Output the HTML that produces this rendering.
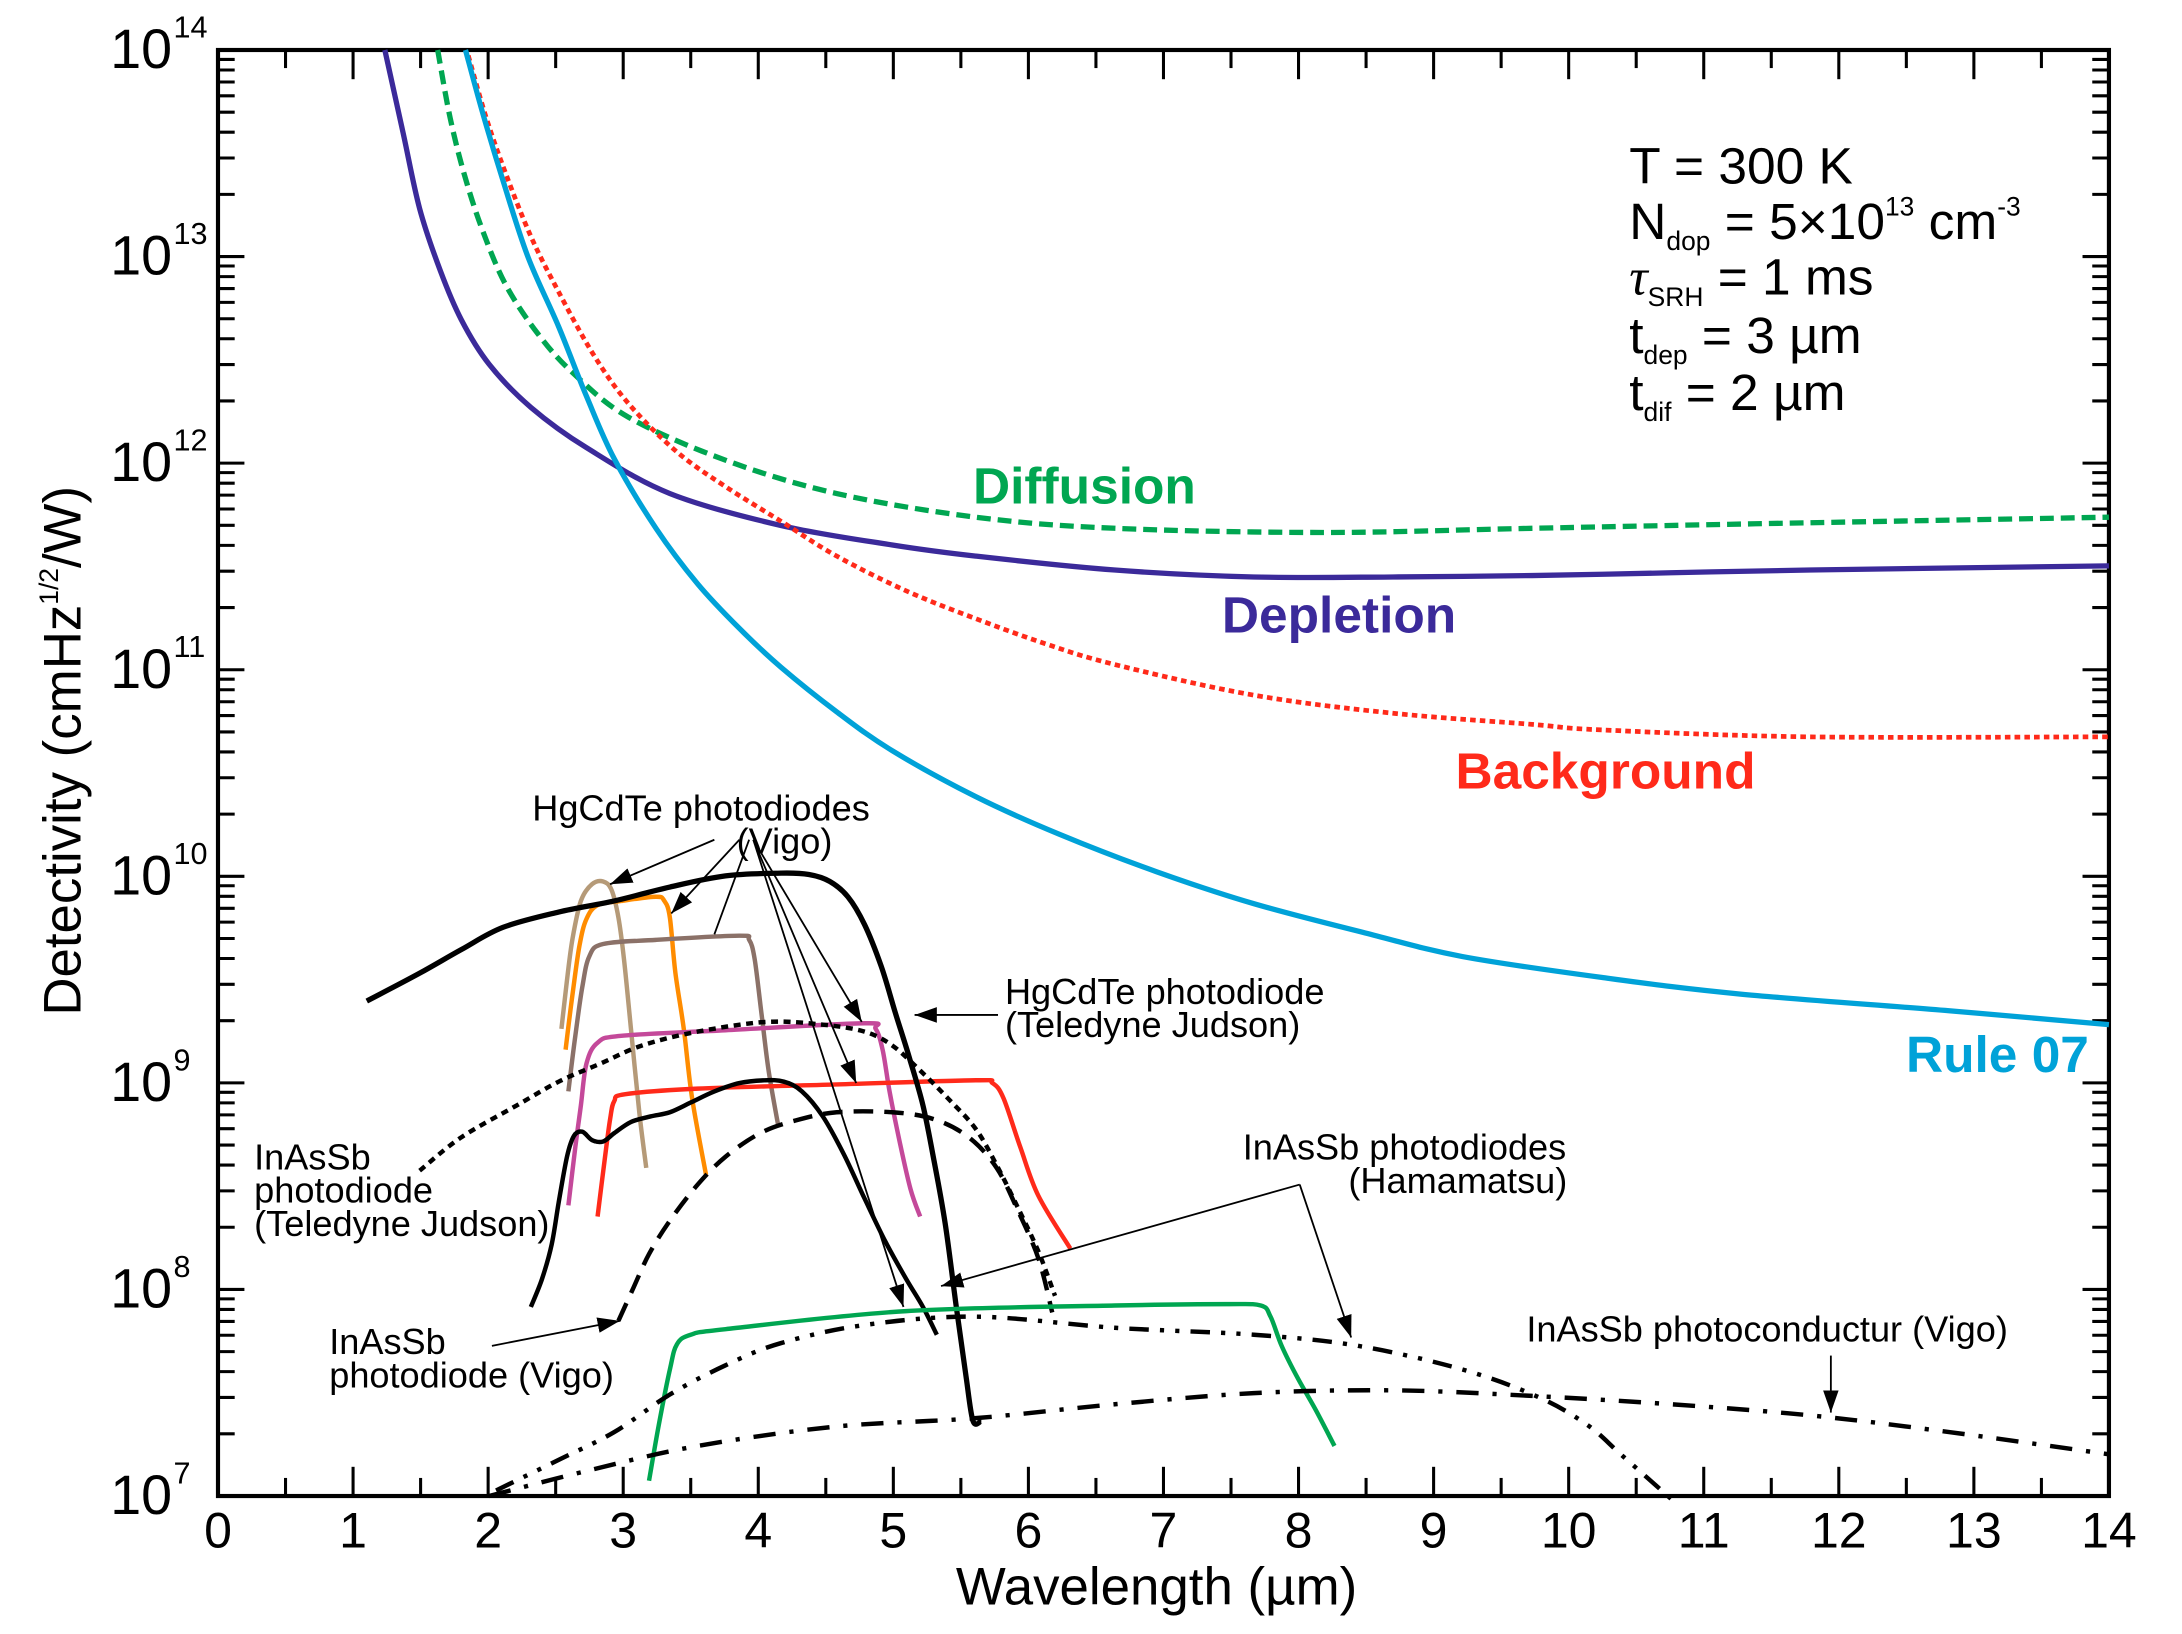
<!DOCTYPE html>
<html><head><meta charset="utf-8"><style>
html,body{margin:0;padding:0;background:#fff;}
svg{display:block;font-family:"Liberation Sans",Arial,sans-serif;}
</style></head><body>
<svg id="s" width="2182" height="1634" viewBox="0 0 2182 1634" xmlns="http://www.w3.org/2000/svg">
<rect width="2182" height="1634" fill="#fff"/>
<defs>
<marker id="ah2" viewBox="0 0 10 10" refX="10" refY="5" markerWidth="16" markerHeight="16" markerUnits="userSpaceOnUse" orient="auto"><path d="M0,1.5 L10,5 L0,8.5 z" fill="#000"/></marker>
</defs>
<g transform="translate(218,50) scale(1.3904) translate(-155,-36)">
<g id="ticks" stroke="#000" stroke-width="2.2"></g>
<rect x="155" y="36" width="1360" height="1040" fill="none" stroke="#000" stroke-width="3"/>
<g id="curves" fill="none" stroke-linejoin="round" stroke-linecap="butt">
<polyline stroke="#3b2a9a" stroke-width="3.8" points="275,36 288,95 300,150 315,195 330,230 350,262 380,293 420,322 480,355 560,378 640,392 700,400 800,410 900,415 1000,415 1100,414 1200,412 1300,410 1515,407"/>
<polyline stroke="#00a651" stroke-width="3.8" stroke-dasharray="10,5" points="313,36 322,85 332,125 345,165 362,205 385,240 410,268 450,300 520,331 600,355 700,372 800,380 950,383 1100,380 1300,376 1515,372"/>
<polyline stroke="#ff2a1a" stroke-width="3.4" stroke-dasharray="4,3" points="335,40 348,85 362,125 380,170 400,210 425,255 450,290 485,325 520,350 560,375 600,400 650,425 700,445 750,463 800,478 900,500 1000,513 1100,521 1150,525 1300,530 1515,530"/>
<polyline stroke="#00a2d8" stroke-width="3.8" points="333,36 345,80 360,130 378,185 400,235 420,285 440,330 470,380 500,420 530,452 560,480 600,512 640,540 700,573 760,600 830,627 900,650 980,671 1050,688 1150,703 1250,715 1400,727 1515,737"/>
<polyline stroke="#b59a78" stroke-width="3.2" points="402,740 406,705 410,675 416,648 424,636 432,634 438,640 443,660 447,690 452,740 458,800 463,840"/>
<polyline stroke="#ff8c00" stroke-width="3.2" points="405,755 410,715 415,680 420,661 428,651 445,648 470,645 476,648 480,660 484,700 490,740 496,790 506,845"/>
<polyline stroke="#8b7168" stroke-width="3.2" points="407,785 412,745 417,710 422,688 432,679 470,676 530,673 537,676 541,690 546,730 551,770 558,810"/>
<polyline stroke="#c4499a" stroke-width="3.2" points="407,867 412,825 416,795 420,765 428,750 445,745 520,741 620,736 628,740 633,755 638,785 645,820 653,855 660,875"/>
<polyline stroke="#ff2a1a" stroke-width="3.2" points="428,875 433,835 437,805 440,792 448,787 500,783 600,780 700,777 712,779 720,790 732,825 745,860 768,898"/>
<polyline stroke="#000" stroke-width="3.8" points="262,720 300,700 330,683 360,667 400,656 440,648 480,638 520,630 560,628 580,629 595,634 608,645 620,665 632,695 642,728 652,760 662,795 670,835 678,880 686,940 693,990 698,1022 704,1022"/>
<polyline stroke="#000" stroke-width="3.2" points="380,940 388,920 395,895 400,865 406,832 411,817 417,814 424,820 432,821 440,815 452,807 466,803 480,800 495,793 512,785 530,779 548,777 562,778 575,785 590,803 605,830 620,862 635,893 650,920 662,940 672,960"/>
<polyline stroke="#000" stroke-width="3.2" stroke-dasharray="5,4" points="300,842 330,818 370,795 400,778 430,765 460,752 500,742 550,735 590,737 620,742 640,752 660,770 680,790 700,812 715,838 730,868 745,900 757,932"/>
<polyline stroke="#000" stroke-width="3.2" stroke-dasharray="14,8" points="443,950 453,928 465,902 480,878 500,852 520,832 545,815 570,806 600,800 640,800 670,805 695,818 715,840 730,870 745,905 755,944"/>
<polyline stroke="#00a651" stroke-width="3.2" points="465,1065 472,1025 480,985 485,967 495,960 520,956 650,943 800,939 880,938 905,939 912,947 920,968 932,992 945,1015 958,1040"/>
<polyline stroke="#000" stroke-width="3.2" stroke-dasharray="14,8,3,8,3,8" points="355,1072 400,1050 440,1030 480,1003 520,982 560,966 620,953 700,947 800,955 900,960 975,968 1050,985 1105,1005 1140,1025 1165,1047 1200,1078"/>
<polyline stroke="#000" stroke-width="3.2" stroke-dasharray="16,10,3,10" points="350,1076 420,1058 500,1040 600,1026 700,1020 800,1010 900,1002 1000,1000 1100,1004 1200,1010 1300,1018 1400,1030 1515,1046"/>
</g>
<g stroke="#000" stroke-width="1.3" fill="none">
<line x1="512" y1="604" x2="437" y2="636" marker-end="url(#ah2)"/>
<line x1="530" y1="604" x2="481" y2="657" marker-end="url(#ah2)"/>
<line x1="537" y1="604" x2="512" y2="672"/>
<line x1="540" y1="604" x2="618" y2="735" marker-end="url(#ah2)"/>
<line x1="540" y1="604" x2="614" y2="779" marker-end="url(#ah2)"/>
<line x1="540" y1="604" x2="648" y2="940" marker-end="url(#ah2)"/>
<line x1="716" y1="730" x2="656" y2="730" marker-end="url(#ah2)"/>
<line x1="933" y1="852" x2="675" y2="925" marker-end="url(#ah2)"/>
<line x1="933" y1="852" x2="970" y2="962" marker-end="url(#ah2)"/>
<line x1="352" y1="968" x2="444" y2="950" marker-end="url(#ah2)"/>
<line x1="1315" y1="975" x2="1315" y2="1016" marker-end="url(#ah2)"/>
</g>
<g font-size="26" fill="#000">
<text x="381" y="590">HgCdTe photodiodes</text>
<text x="528" y="614">(Vigo)</text>
<text x="721" y="722">HgCdTe photodiode</text>
<text x="721" y="746">(Teledyne Judson)</text>
<text x="892" y="834">InAsSb photodiodes</text>
<text x="968" y="858">(Hamamatsu)</text>
<text x="1096" y="965">InAsSb photoconductur (Vigo)</text>
<text x="235" y="974">InAsSb</text>
<text x="235" y="998">photodiode (Vigo)</text>
<text x="181" y="841">InAsSb</text>
<text x="181" y="865">photodiode</text>
<text x="181" y="889">(Teledyne Judson)</text>
</g>
<g font-size="37" font-weight="bold">
<text x="698" y="362" fill="#00a651">Diffusion</text>
<text x="877" y="455" fill="#3b2a9a">Depletion</text>
<text x="1045" y="567" fill="#ff2a1a">Background</text>
<text x="1369" y="771" fill="#00a2d8">Rule 07</text>
</g>
<g font-size="37" fill="#000">
<text x="1170" y="132">T = 300 K</text>
<text x="1170" y="172">N<tspan font-size="19" dy="8">dop</tspan><tspan dy="-8"> = 5×10</tspan><tspan font-size="19" dy="-17">13</tspan><tspan dy="17"> cm</tspan><tspan font-size="19" dy="-17">-3</tspan></text>
<text x="1170" y="212"><tspan font-family="'Liberation Serif',serif" font-style="italic">τ</tspan><tspan font-size="19" dy="8">SRH</tspan><tspan dy="-8"> = 1 ms</tspan></text>
<text x="1170" y="254">t<tspan font-size="19" dy="8">dep</tspan><tspan dy="-8"> = 3 µm</tspan></text>
<text x="1170" y="295">t<tspan font-size="19" dy="8">dif</tspan><tspan dy="-8"> = 2 µm</tspan></text>
</g>
<g id="labels" font-size="36" fill="#000"></g>
<text x="830" y="1154" font-size="38" text-anchor="middle">Wavelength (µm)</text>
<text transform="translate(56,540) rotate(-90)" font-size="38" text-anchor="middle">Detectivity (cmHz<tspan font-size="19" dy="-16">1/2</tspan><tspan dy="16">/W)</tspan></text>
</g>
</svg>
<script>
(function(){
var NS="http://www.w3.org/2000/svg",t=document.getElementById("ticks"),L=document.getElementById("labels");
function ln(a,b,c,d){var e=document.createElementNS(NS,"line");e.setAttribute("x1",a);e.setAttribute("y1",b);e.setAttribute("x2",c);e.setAttribute("y2",d);t.appendChild(e);}
function tx(x,y,s,anc,fs){var e=document.createElementNS(NS,"text");e.setAttribute("x",x);e.setAttribute("y",y);if(anc)e.setAttribute("text-anchor",anc);if(fs)e.setAttribute("font-size",fs);e.textContent=s;L.appendChild(e);return e;}
var X=function(l){return 155+97.143*l;},Y=function(v){return 1076-148.571*v;};
for(var i=0;i<=28;i++){var x=X(i/2),len=(i%2==0)?21:13;ln(x,1076,x,1076-len);ln(x,36,x,36+len);}
for(var i=0;i<=14;i++){tx(X(i),1113,String(i),"middle");}
for(var v=0;v<7;v++){for(var m=1;m<10;m++){var y=Y(v+Math.log(m)/Math.LN10),len=m==1?19:12;ln(155,y,155+len,y);ln(1515,y,1515-len,y);}}
for(var v=0;v<=7;v++){var y=Y(v)+13;tx(122,y,"10","end",40);tx(123,y-22,String(v+7),"start",22);}
var pls=document.querySelectorAll("#curves polyline");
for(var k=0;k<pls.length;k++){var pl=pls[k];var nums=pl.getAttribute("points").trim().split(/[\s,]+/).map(Number);var P=[];for(var j=0;j<nums.length;j+=2)P.push([nums[j],nums[j+1]]);
var d="M"+P[0][0]+","+P[0][1];for(var j=0;j<P.length-1;j++){var p0=j>0?P[j-1]:P[j],p1=P[j],p2=P[j+1],p3=(j+2<P.length)?P[j+2]:p2;var c1=[p1[0]+(p2[0]-p0[0])/6,p1[1]+(p2[1]-p0[1])/6],c2=[p2[0]-(p3[0]-p1[0])/6,p2[1]-(p3[1]-p1[1])/6];d+=" C"+c1[0].toFixed(1)+","+c1[1].toFixed(1)+" "+c2[0].toFixed(1)+","+c2[1].toFixed(1)+" "+p2[0]+","+p2[1];}
var pa=document.createElementNS(NS,"path");pa.setAttribute("d",d);["stroke","stroke-width","stroke-dasharray"].forEach(function(a){if(pl.getAttribute(a))pa.setAttribute(a,pl.getAttribute(a));});pl.parentNode.replaceChild(pa,pl);}
})();
</script>
</body></html>
